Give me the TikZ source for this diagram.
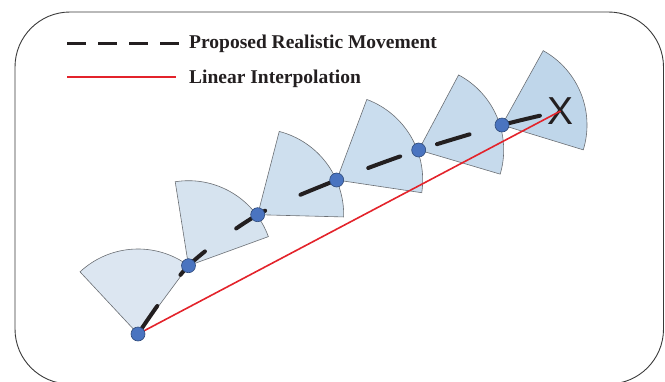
\documentclass[tikz,border=0pt]{standalone}
\usepackage{fontspec}
\setmainfont{Liberation Serif}
\newfontfamily\xfont{Liberation Sans}
\definecolor{frameC}{HTML}{3A3A3A}
\definecolor{edgeC}{HTML}{6A6E73}
\definecolor{dotC}{HTML}{4A74C0}
\definecolor{dotB}{HTML}{2E4A7A}
\definecolor{redC}{HTML}{E3232B}
\definecolor{inkC}{HTML}{231F20}
\definecolor{sA}{HTML}{DCE6F1}
\definecolor{sB}{HTML}{D6E3EF}
\definecolor{sC}{HTML}{CEDFEE}
\definecolor{sD}{HTML}{CADDEE}
\definecolor{sE}{HTML}{C6DAEC}
\definecolor{sF}{HTML}{BFD6EA}
\tikzset{
  frame/.style={draw=frameC, line width=0.9pt, rounded corners=55pt},
  sector/.style={draw=edgeC, line width=0.6pt},
  dot/.style={circle, fill=dotC, draw=dotB, line width=0.6pt, minimum size=14pt, inner sep=0pt},
  movepath/.style={draw=inkC, line width=4pt, line cap=round, dash pattern=on 34pt off 38.8pt},
  legdash/.style={draw=inkC, line width=2.5pt, dash pattern=on 19pt off 12pt},
  redline/.style={draw=redC, line width=1.6pt},
  legtext/.style={anchor=base west, inner sep=0pt, text=inkC, font=\fontsize{19.5}{22}\selectfont\bfseries},
  xmark/.style={inner sep=0pt, text=inkC, font=\xfont\fontsize{39}{40}\selectfont}
}
\begin{document}
\begin{tikzpicture}[x=1pt,y=-1pt]
\useasboundingbox (0,0) rectangle (665,381);
\clip (0,0) rectangle (665,381);
\draw[frame] (15,12) rectangle (663.5,384);

% nodes (positions)
\coordinate (p0) at (138,334);
\coordinate (p1) at (188.5,265.7);
\coordinate (p2) at (257.7,214.7);
\coordinate (p3) at (336.7,180);
\coordinate (p4) at (418.7,150);
\coordinate (p5) at (502,125);

% sectors
\filldraw[sector, fill=sA] (p0) -- ++(53.5:85pt) arc[start angle=53.5, end angle=133, radius=85pt] -- cycle;
\filldraw[sector, fill=sB] (p1) -- ++(20:85pt) arc[start angle=20, end angle=99, radius=85pt] -- cycle;
\filldraw[sector, fill=sC] (p2) -- ++(-1.5:86pt) arc[start angle=-1.5, end angle=75.5, radius=86pt] -- cycle;
\filldraw[sector, fill=sD] (p3) -- ++(-8.5:86pt) arc[start angle=-8.5, end angle=69.5, radius=86pt] -- cycle;
\filldraw[sector, fill=sE] (p4) -- ++(-16.5:85pt) arc[start angle=-16.5, end angle=62, radius=85pt] -- cycle;
\filldraw[sector, fill=sF] (p5) -- ++(-17:85pt) arc[start angle=-17, end angle=61, radius=85pt] -- cycle;

% target X
\node[xmark] (xm) at (560.5,111) {X};

% linear interpolation
\draw[redline] (p0) -- (xm.center);

% proposed realistic movement
\draw[movepath] plot[smooth, tension=0.45] coordinates {(p0) (p1) (p2) (p3) (p4) (p5) (xm.center)};

% dots
\node[dot] (d0) at (p0) {};
\node[dot] (d1) at (p1) {};
\node[dot] (d2) at (p2) {};
\node[dot] (d3) at (p3) {};
\node[dot] (d4) at (p4) {};
\node[dot] (d5) at (p5) {};

% legend
\coordinate (la) at (67,43.3);
\coordinate (lb) at (180,43.3);
\coordinate (lc) at (67,77.3);
\coordinate (ld) at (176,77.3);
\draw[legdash] (la) -- (lb);
\draw[redline, line width=2pt] (lc) -- (ld);
\node[legtext] (t1) at (189,48.5) {Proposed Realistic Movement};
\node[legtext] (t2) at (189,83.5) {Linear Interpolation};
\end{tikzpicture}
\end{document}
